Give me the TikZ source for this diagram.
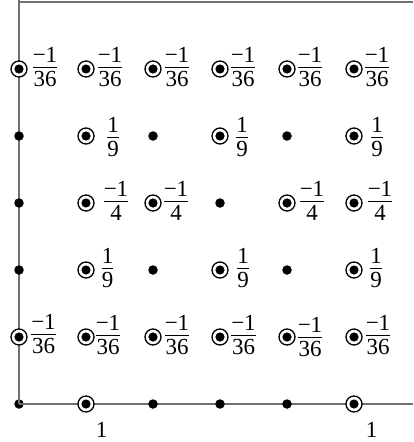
\documentclass[tikz,border=0pt]{standalone}
\usepackage{fontspec}
\setmainfont{Liberation Serif}
\usepackage{array}
\definecolor{axisgray}{RGB}{112,112,112}
\newcommand{\fr}[2]{{\setlength{\arrayrulewidth}{1.2pt}\renewcommand{\arraystretch}{0.75}\begin{tabular}{@{}c@{}}#1\\[-1pt]\hline\rule{0pt}{18.5pt}#2\end{tabular}}}
\tikzset{
  dot/.style={circle,fill=black,inner sep=0pt,minimum size=9.5pt},
  ring/.style={circle,draw=black,line width=1.3pt,fill=white,inner sep=0pt,minimum size=16pt,
    path picture={\fill[black] (path picture bounding box.center) circle (4.6pt);}},
  lab/.style={inner sep=0pt,font=\fontsize{23}{27}\selectfont},
  axis/.style={draw=axisgray,line width=1.6pt},
}
\begin{document}
\begin{tikzpicture}[x=1pt,y=-1pt]
\useasboundingbox (0,0) rectangle (413,442);
% axes
\coordinate (vtop) at (19,0);
\coordinate (ttop) at (19,2);
\coordinate (tright) at (413,2);
\coordinate (hright) at (413,404);
\node[dot] (n60) at (19,404) {};
\draw[axis] (vtop) -- (n60.center);
\draw[axis] (ttop) -- (tright);
\draw[axis,line width=1.3pt] (n60.center) -- (hright);
% row 1
\node[ring] (n10) at (19,69) {};
\node[ring] (n11) at (86,69) {};
\node[ring] (n12) at (153,69) {};
\node[ring] (n13) at (220,69) {};
\node[ring] (n14) at (287,69) {};
\node[ring] (n15) at (354,69) {};
\node[lab] (l10) at (45,70) {\fr{−1}{36}};
\node[lab] (l11) at (110,70) {\fr{−1}{36}};
\node[lab] (l12) at (177,70) {\fr{−1}{36}};
\node[lab] (l13) at (243,70) {\fr{−1}{36}};
\node[lab] (l14) at (310,70) {\fr{−1}{36}};
\node[lab] (l15) at (377,70) {\fr{−1}{36}};
% row 2
\node[dot] (n20) at (19,136) {};
\node[ring] (n21) at (86,136) {};
\node[dot] (n22) at (153,136) {};
\node[ring] (n23) at (220,136) {};
\node[dot] (n24) at (287,136) {};
\node[ring] (n25) at (354,136) {};
\node[lab] (l21) at (113,140) {\fr{1}{9}};
\node[lab] (l23) at (242,140) {\fr{1}{9}};
\node[lab] (l25) at (377,140) {\fr{1}{9}};
% row 3
\node[dot] (n30) at (19,203) {};
\node[ring] (n31) at (86,203) {};
\node[ring] (n32) at (153,203) {};
\node[dot] (n33) at (220,203) {};
\node[ring] (n34) at (287,203) {};
\node[ring] (n35) at (354,203) {};
\node[lab] (l31) at (116,204) {\fr{−1}{4}};
\node[lab] (l32) at (176,204) {\fr{−1}{4}};
\node[lab] (l34) at (312,204) {\fr{−1}{4}};
\node[lab] (l35) at (380,204) {\fr{−1}{4}};
% row 4
\node[dot] (n40) at (19,270) {};
\node[ring] (n41) at (86,270) {};
\node[dot] (n42) at (153,270) {};
\node[ring] (n43) at (220,270) {};
\node[dot] (n44) at (287,270) {};
\node[ring] (n45) at (354,270) {};
\node[lab] (l41) at (107.5,271) {\fr{1}{9}};
\node[lab] (l43) at (243,271) {\fr{1}{9}};
\node[lab] (l45) at (376,271) {\fr{1}{9}};
% row 5
\node[ring] (n50) at (19,337) {};
\node[ring] (n51) at (86,337) {};
\node[ring] (n52) at (153,337) {};
\node[ring] (n53) at (220,337) {};
\node[ring] (n54) at (287,337) {};
\node[ring] (n55) at (354,337) {};
\node[lab] (l50) at (43.5,337) {\fr{−1}{36}};
\node[lab] (l51) at (108,338) {\fr{−1}{36}};
\node[lab] (l52) at (177,338) {\fr{−1}{36}};
\node[lab] (l53) at (243.5,338) {\fr{−1}{36}};
\node[lab] (l54) at (310,340) {\fr{−1}{36}};
\node[lab] (l55) at (378,338) {\fr{−1}{36}};
% row 6 (axis)
\node[ring] (n61) at (86,404) {};
\node[dot] (n62) at (153,404) {};
\node[dot] (n63) at (220,404) {};
\node[dot] (n64) at (287,404) {};
\node[ring] (n65) at (354,404) {};
\node[lab] (l61) at (101.5,430) {1};
\node[lab] (l65) at (371.5,430) {1};
\end{tikzpicture}
\end{document}
